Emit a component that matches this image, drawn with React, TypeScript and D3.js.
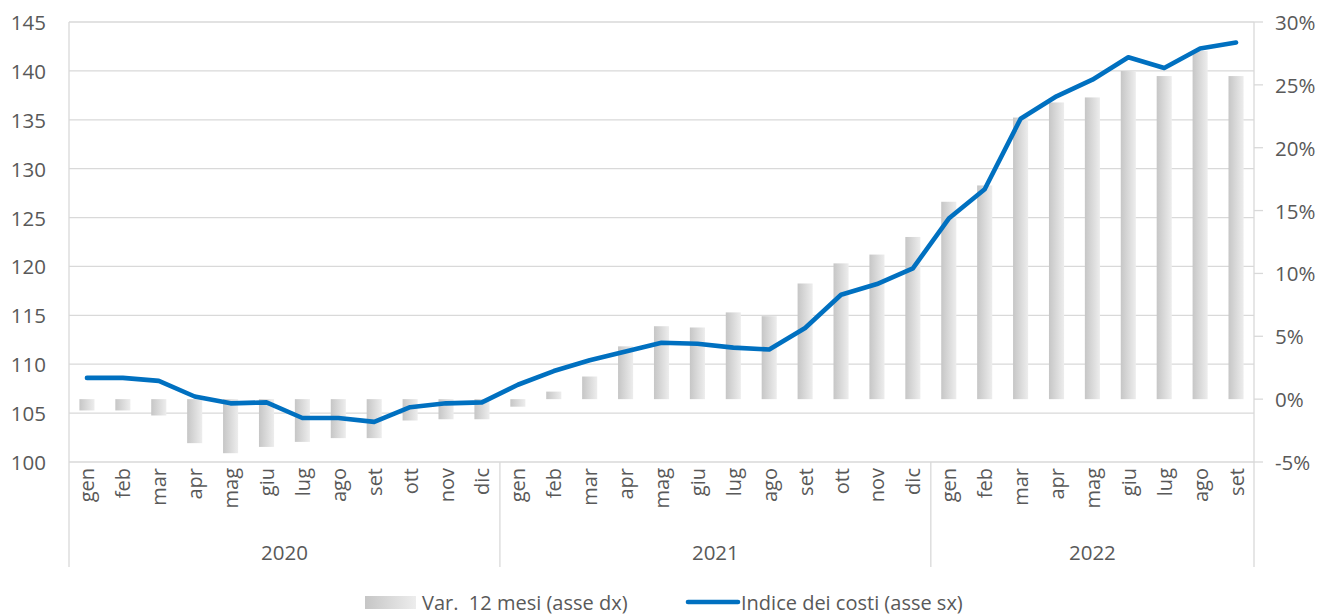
import React from "react";
import * as d3 from "d3";

// Month labels and year groups along the category axis
const months = ["gen", "feb", "mar", "apr", "mag", "giu", "lug", "ago", "set", "ott", "nov", "dic"];
const years = ["2020", "2021", "2022"];
const monthsPerYear = [12, 12, 9];

// 12-month change (right axis), fraction
const var12 = [
  -0.009, -0.009, -0.013, -0.035, -0.043, -0.038, -0.034, -0.031, -0.031, -0.017, -0.016, -0.016,
  -0.006, 0.006, 0.018, 0.042, 0.058, 0.057, 0.069, 0.066, 0.092, 0.108, 0.115, 0.129,
  0.157, 0.170, 0.224, 0.236, 0.240, 0.261, 0.257, 0.277, 0.257,
];

// Cost index (left axis)
const indice = [
  108.6, 108.6, 108.3, 106.7, 106.0, 106.1, 104.5, 104.5, 104.1, 105.6, 106.0, 106.1,
  107.9, 109.3, 110.4, 111.3, 112.2, 112.1, 111.7, 111.5, 113.7, 117.1, 118.2, 119.8,
  124.9, 127.9, 135.1, 137.4, 139.1, 141.4, 140.3, 142.3, 142.9,
];

const leftTicks = [100, 105, 110, 115, 120, 125, 130, 135, 140, 145];
const rightTicks = [-0.05, 0, 0.05, 0.1, 0.15, 0.2, 0.25, 0.3];

const W = 1322;
const H = 616;
const X0 = 69;
const X1 = 1254;
const YT = 22;
const YB = 462;
const AXIS_BOTTOM = 567;

const FONT = "'Open Sans', sans-serif";
const TEXT = "#595959";
const GRID = "#d9d9d9";
const BLUE = "#0070C0";

export default function App() {
  const n = indice.length;
  const labels: string[] = [];
  monthsPerYear.forEach((cnt) => {
    for (let i = 0; i < cnt; i++) labels.push(months[i]);
  });

  const x = d3
    .scaleBand<number>()
    .domain(d3.range(n))
    .range([X0, X1])
    .paddingInner(0.58)
    .paddingOuter(0.29);
  const step = x.step();
  const cx = (i: number) => (x(i) as number) + x.bandwidth() / 2;

  const yL = d3.scaleLinear().domain([100, 145]).range([YB, YT]);
  const yR = d3.scaleLinear().domain([-0.05, 0.3]).range([YB, YT]);

  const line = d3
    .line<number>()
    .x((_, i) => cx(i))
    .y((d) => yL(d));

  // Boundaries between year groups
  const boundaries: number[] = [X0];
  let acc = 0;
  monthsPerYear.forEach((cnt) => {
    acc += cnt;
    boundaries.push(X0 + acc * step);
  });

  const pctFmt = (v: number) => `${Math.round(v * 100)}%`;
  const legendY = 602;

  return (
    <svg width={W} height={H} style={{ display: "block", position: "absolute", left: 0, top: 0 }}>
      <defs>
        <linearGradient id="barGrad" x1="0" y1="0" x2="1" y2="0">
          <stop offset="0" stopColor="#c6c6c6" />
          <stop offset="1" stopColor="#ededed" />
        </linearGradient>
      </defs>
      <rect width={W} height={H} fill="#ffffff" />

      {/* horizontal gridlines (left axis) */}
      {leftTicks.map((t) => (
        <line key={t} x1={X0} x2={X1} y1={yL(t)} y2={yL(t)} stroke={GRID} strokeWidth={1.3} />
      ))}

      {/* right axis tick marks */}
      {rightTicks.map((t) => (
        <line key={t} x1={X1} x2={X1 + 9} y1={yR(t)} y2={yR(t)} stroke={GRID} strokeWidth={1.3} />
      ))}

      {/* axis and group divider lines */}
      {boundaries.map((bx, i) => (
        <line
          key={i}
          x1={bx}
          x2={bx}
          y1={i === 0 || i === boundaries.length - 1 ? YT : YB}
          y2={AXIS_BOTTOM}
          stroke={GRID}
          strokeWidth={1.3}
        />
      ))}

      {/* bars */}
      {var12.map((v, i) => (
        <rect
          key={i}
          x={x(i)}
          width={x.bandwidth()}
          y={Math.min(yR(v), yR(0))}
          height={Math.abs(yR(v) - yR(0))}
          fill="url(#barGrad)"
        />
      ))}

      {/* index line */}
      <path
        d={line(indice) || ""}
        fill="none"
        stroke={BLUE}
        strokeWidth={4.6}
        strokeLinejoin="round"
        strokeLinecap="round"
      />

      {/* left axis labels */}
      {leftTicks.map((t) => (
        <text
          key={t}
          x={46}
          y={yL(t)}
          textAnchor="end"
          dominantBaseline="central"
          fontFamily={FONT}
          fontSize={20.5}
          fill={TEXT}
        >
          {t}
        </text>
      ))}

      {/* right axis labels */}
      {rightTicks.map((t) => (
        <text
          key={t}
          x={1275}
          y={yR(t)}
          textAnchor="start"
          dominantBaseline="central"
          fontFamily={FONT}
          fontSize={20.5}
          fill={TEXT}
        >
          {pctFmt(t)}
        </text>
      ))}

      {/* month labels */}
      {labels.map((m, i) => (
        <text
          key={i}
          transform={`translate(${cx(i)},${YB + 6}) rotate(-90)`}
          textAnchor="end"
          dominantBaseline="central"
          fontFamily={FONT}
          fontSize={20}
          fill={TEXT}
        >
          {m}
        </text>
      ))}

      {/* year labels */}
      {years.map((yv, i) => (
        <text
          key={yv}
          x={(boundaries[i] + boundaries[i + 1]) / 2}
          y={552}
          textAnchor="middle"
          dominantBaseline="central"
          fontFamily={FONT}
          fontSize={20.5}
          fill={TEXT}
        >
          {yv}
        </text>
      ))}

      {/* legend */}
      <rect x={365} y={legendY - 6} width={51} height={13} fill="url(#barGrad)" />
      <text
        x={422}
        y={legendY}
        dominantBaseline="central"
        fontFamily={FONT}
        fontSize={20}
        fill={TEXT}
        style={{ whiteSpace: "pre" }}
      >
        {"Var.  12 mesi (asse dx)"}
      </text>
      <line x1={688} x2={738} y1={legendY} y2={legendY} stroke={BLUE} strokeWidth={4.6} strokeLinecap="round" />
      <text x={741} y={legendY} dominantBaseline="central" fontFamily={FONT} fontSize={20} fill={TEXT}>
        Indice dei costi (asse sx)
      </text>
    </svg>
  );
}
